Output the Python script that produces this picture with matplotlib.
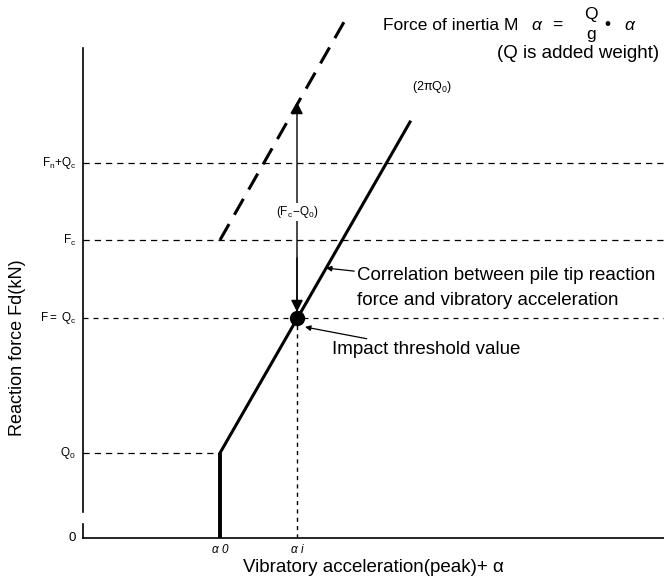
import matplotlib
matplotlib.use('Agg')
import matplotlib.pyplot as plt

# Concept diagram: reaction force vs vibratory acceleration
FONT = ['Liberation Sans', 'DejaVu Sans']
plt.rcParams['font.family'] = FONT
plt.rcParams['mathtext.fontset'] = 'custom'
plt.rcParams['mathtext.rm'] = FONT[0]
plt.rcParams['mathtext.it'] = FONT[0] + ':italic'

# Data (pixel-like units measured from the origin)
y_levels = [85, 220, 298, 375]
y_labels = [r'$\mathrm{Q_0}$', r'$\mathrm{F{=}\ Q_c}$', r'$\mathrm{F_c}$', r'$\mathrm{F_n{+}Q_c}$']
alpha0 = 137
alpha_i = 214
corr_x = [137, 137, 327]
corr_y = [0, 85, 416]
inertia_x = [137, 265]
inertia_y = [298, 523]
threshold_y = 220
arrow_top = 436
x_max = 581
y_axis_top = 490

fig = plt.figure(figsize=(6.64, 5.84), dpi=100)
ax = fig.add_axes([83 / 664, 46 / 584, 581 / 664, 538 / 584])
ax.set_xlim(0, x_max)
ax.set_ylim(0, 538)
ax.axis('off')

# axes (with a small break near the origin)
ax.plot([0, x_max], [0, 0], color='black', lw=1.2, clip_on=False)
ax.plot([0, 0], [0, 14], color='black', lw=1.2, clip_on=False)
ax.plot([0, 0], [26, y_axis_top], color='black', lw=1.2, clip_on=False)

# reference levels
ax.plot([0, x_max], [y_levels[3]] * 2, color='black', lw=0.9, dashes=(5, 4))
ax.plot([0, x_max], [y_levels[2]] * 2, color='black', lw=0.9, dashes=(5, 4))
ax.plot([0, x_max], [y_levels[1]] * 2, color='black', lw=0.9, dashes=(4, 4))
ax.plot([0, alpha0], [y_levels[0]] * 2, color='black', lw=0.9, dashes=(5, 4))
ax.plot([alpha_i, alpha_i], [0, threshold_y], color='black', lw=1.0, dashes=(3, 3))

# correlation line and inertia line
ax.plot(corr_x[:2], corr_y[:2], color='black', lw=2.8, solid_capstyle='butt')
ax.plot(corr_x[1:], corr_y[1:], color='black', lw=2.2)
ax.plot(inertia_x, inertia_y, color='black', lw=2.2, dashes=(6, 3.5), clip_on=False)

# impact threshold point
ax.plot([alpha_i], [threshold_y], 'o', color='black', ms=10)

# double arrow (Fc-Qc)
ax.annotate('', xy=(alpha_i, arrow_top), xytext=(alpha_i, threshold_y + 6),
            arrowprops=dict(arrowstyle='-|>', color='black', lw=1.0,
                            mutation_scale=18, shrinkA=0, shrinkB=0))
ax.annotate('', xy=(alpha_i, threshold_y + 6), xytext=(alpha_i, threshold_y + 60),
            arrowprops=dict(arrowstyle='-|>', color='black', lw=1.0,
                            mutation_scale=18, shrinkA=0, shrinkB=0))
ax.text(alpha_i, 326, r'$\mathrm{(F_c\!-\!Q_0)}$', ha='center', va='center', fontsize=8.5,
        bbox=dict(facecolor='white', edgecolor='none', pad=1))
ax.text(349, 451, r'$\mathrm{(2\pi Q_0)}$', ha='center', va='center', fontsize=9)

# y tick labels
for yv, lab in zip(y_levels, y_labels):
    ax.text(-7, yv, lab, ha='right', va='center', fontsize=8.5)
ax.text(-7, 0, '0', ha='right', va='center', fontsize=9.5)

# x tick labels
ax.text(alpha0, -12, 'α 0', ha='center', va='center', fontsize=8.5, style='italic')
ax.text(alpha_i, -12, 'α i', ha='center', va='center', fontsize=8.5, style='italic')

# axis titles
ax.text(290, -30, 'Vibratory acceleration(peak)+ α', ha='center', va='center', fontsize=13.5)
fig.text(18 / 664, 1 - 348 / 584, 'Reaction force Fd(kN)', rotation=90,
         ha='center', va='center', fontsize=13)

# annotations
ax.annotate('Correlation between pile tip reaction\nforce and vibratory acceleration',
            xy=(243, 270), xytext=(274, 250), ha='left', va='center', fontsize=13.5,
            linespacing=1.6,
            arrowprops=dict(arrowstyle='-|>', color='black', lw=0.9,
                            mutation_scale=8, shrinkA=0, shrinkB=0))
ax.annotate('Impact threshold value', xy=(222, 211), xytext=(249, 188),
            ha='left', va='center', fontsize=13.5,
            arrowprops=dict(arrowstyle='-|>', color='black', lw=0.9,
                            mutation_scale=8, shrinkA=0, shrinkB=0))

# formula at the top
fig.text(383 / 664, 1 - 25 / 584, 'Force of inertia M', ha='left', va='center', fontsize=12.5)
fig.text(536 / 664, 1 - 25 / 584, 'α', ha='center', va='center', fontsize=12.5, style='italic')
fig.text(557 / 664, 1 - 25 / 584, '=', ha='center', va='center', fontsize=12.5)
fig.text(591 / 664, 1 - 14 / 584, 'Q', ha='center', va='center', fontsize=12.5)
fig.text(591 / 664, 1 - 35 / 584, 'g', ha='center', va='center', fontsize=12.5)
fig.text(607 / 664, 1 - 25 / 584, '•', ha='center', va='center', fontsize=12.5)
fig.text(629 / 664, 1 - 25 / 584, 'α', ha='center', va='center', fontsize=12.5, style='italic')
fig.text(578 / 664, 1 - 53 / 584, '(Q is added weight)', ha='center', va='center', fontsize=13.5)

fig.savefig('out.png', dpi=100)
